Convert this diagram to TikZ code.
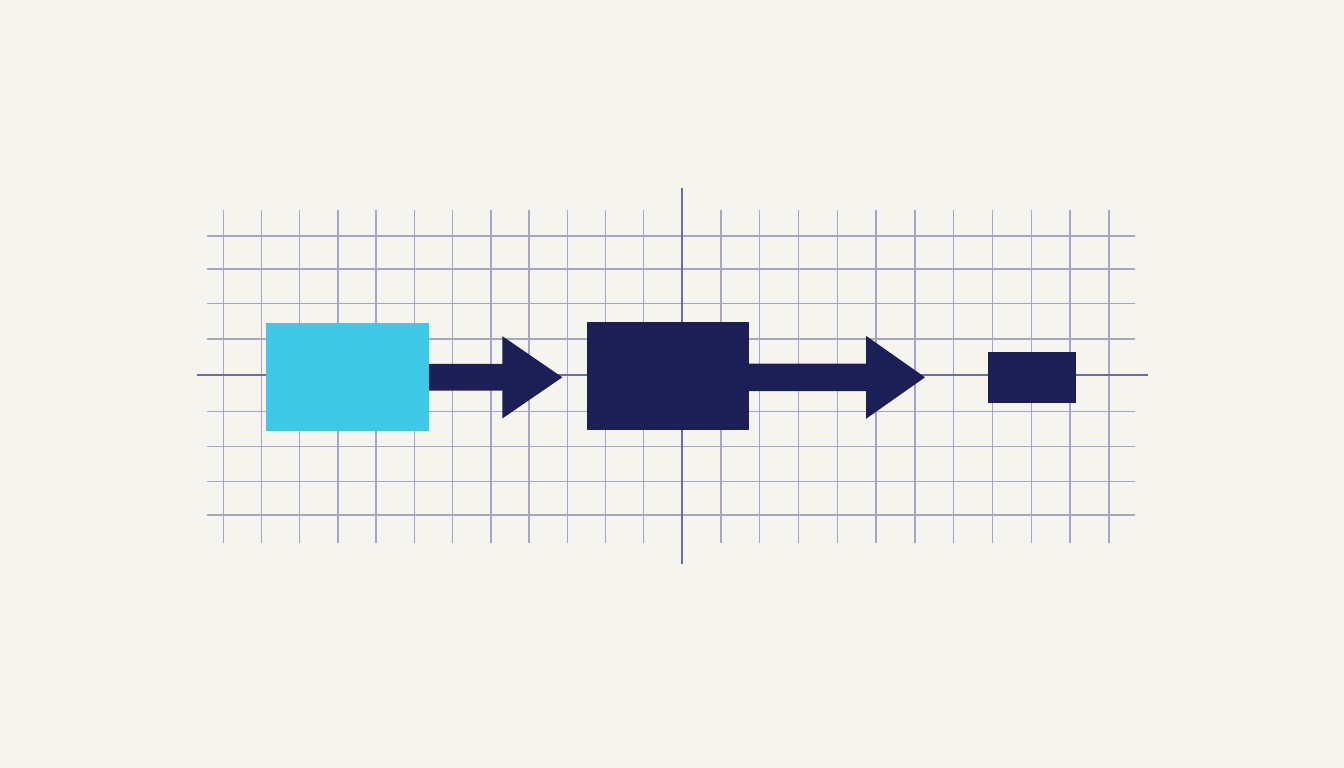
\documentclass[tikz,border=0pt]{standalone}
\usetikzlibrary{calc}
\definecolor{bg}{HTML}{F6F4EF}
\definecolor{gridc}{HTML}{A4A4CC}
\definecolor{axisc}{HTML}{6C6CA2}
\definecolor{cyanbox}{HTML}{3FC8E6}
\definecolor{navy}{HTML}{1C1F56}
\begin{document}
\begin{tikzpicture}[x=1pt,y=-1pt,
  gridline/.style={draw=gridc,line width=1.4pt},
  axisline/.style={draw=axisc,line width=1.8pt},
  box/.style={draw=none,inner sep=0pt,outer sep=0pt,shape=rectangle},
  blockarrow/.style={fill=navy}]
\useasboundingbox (0,0) rectangle (1344,768);
\fill[bg] (0,0) rectangle (1344,768);
% grid
\foreach \i in {0,...,11} \draw[gridline] ({223.3+38.22*\i},209.5) -- ({223.3+38.22*\i},543);
\foreach \i in {1,...,11} \draw[gridline] ({682+38.8*\i},209.5) -- ({682+38.8*\i},543);
\foreach \y in {236,269,303.7,339,411.3,446.7,481.7,515} \draw[gridline] (206.7,\y) -- (1134.7,\y);
% axes
\draw[axisline] (196.7,375) -- (1148.3,375);
\draw[axisline] (682,188) -- (682,564);
% box positions
\coordinate (c1) at (347.35,376.7);
\coordinate (c2) at (668,376.15);
% arrows (drawn under boxes)
\coordinate (t1) at (562.3,377.3);
\coordinate (h1) at (502.3,377.3);
\coordinate (s1) at (c1 |- t1);
\fill[blockarrow] ($(s1)+(0,-13.35)$) -- ($(h1)+(0,-13.35)$) -- ($(h1)+(0,-41.2)$) -- (t1) -- ($(h1)+(0,41.2)$) -- ($(h1)+(0,13.35)$) -- ($(s1)+(0,13.35)$) -- cycle;
\coordinate (t2) at (925,377.3);
\coordinate (h2) at (866,377.3);
\coordinate (s2) at (c2 |- t2);
\fill[blockarrow] ($(s2)+(0,-13.7)$) -- ($(h2)+(0,-13.7)$) -- ($(h2)+(0,-41.5)$) -- (t2) -- ($(h2)+(0,41.5)$) -- ($(h2)+(0,13.7)$) -- ($(s2)+(0,13.7)$) -- cycle;
% boxes
\node[box,fill=cyanbox,minimum width=162.7pt,minimum height=108pt] (b1) at (c1) {};
\node[box,fill=navy,minimum width=162.6pt,minimum height=107.7pt] (b2) at (c2) {};
\node[box,fill=navy,minimum width=88.3pt,minimum height=51.6pt] (b3) at (1032.15,377.5) {};
\end{tikzpicture}
\end{document}
